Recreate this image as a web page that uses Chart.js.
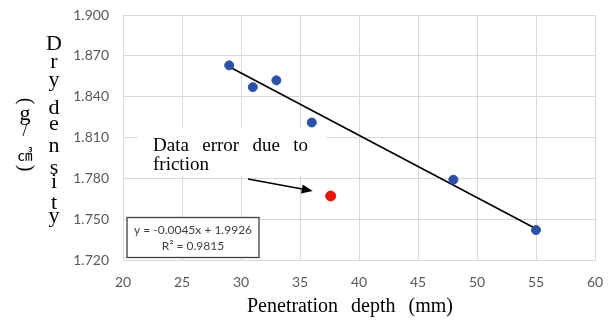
<!DOCTYPE html>
<html>
<head>
<meta charset="utf-8">
<script src="https://cdn.jsdelivr.net/npm/chart.js@4.4.1/dist/chart.umd.min.js"></script>
<style>
  html, body { margin: 0; padding: 0; background: #fff; }
  canvas { display: block; }
</style>
</head>
<body>
<canvas id="chart" width="614" height="324"></canvas>
<script>
// measured points (penetration depth mm, dry density g/cm3)
const depth = [29, 31, 33, 36, 48, 55];
const density = [1.863, 1.847, 1.852, 1.821, 1.779, 1.742];
// the outlier marked in red
const errDepth = [37.6];
const errDensity = [1.767];
// trend line ends
const trendX = [29, 55];
const trendY = [1.862, 1.743];

const xTicks = [20, 25, 30, 35, 40, 45, 50, 55, 60];
const yTicks = [1.72, 1.75, 1.78, 1.81, 1.84, 1.87, 1.9];

const eqLines = ["y = -0.0045x + 1.9926", "R² = 0.9815"];
const noteLines = ["Data error due to", "friction"];
const yTitle = ["D", "r", "y", "d", "e", "n", "s", "i", "t", "y"];
const xTitle = "Penetration depth (mm)";

function pairs(xs, ys) {
  return ys.map((v, i) => ({ x: xs[i], y: v }));
}

// draw words spread over a given width
function spread(ctx, text, x, y, width) {
  let words = text.split(" ");
  let w = words.map(s => ctx.measureText(s).width);
  let total = w.reduce((a, b) => a + b, 0);
  let gap = words.length > 1 ? (width - total) / (words.length - 1) : 0;
  let cx = x;
  words.forEach((s, i) => {
    ctx.fillText(s, cx, y);
    cx += w[i] + gap;
  });
}

const extras = {
  id: "extras",
  beforeDatasetsDraw(chart) {
    const ctx = chart.ctx;
    ctx.save();
    // annotation text sits on a white box over the grid
    ctx.fillStyle = "#fff";
    ctx.fillRect(138, 128, 188, 48);
    ctx.fillStyle = "#000";
    ctx.font = "19px 'Liberation Serif'";
    ctx.textBaseline = "alphabetic";
    ctx.textAlign = "left";
    spread(ctx, noteLines[0], 153, 151, 155);
    ctx.fillText(noteLines[1], 153, 170);
    ctx.restore();
  },
  afterDraw(chart) {
    const ctx = chart.ctx;
    const xs = chart.scales.x, ys = chart.scales.y;
    ctx.save();

    // arrow pointing to the outlier
    let x0 = 248, y0 = 179;
    let x1 = xs.getPixelForValue(errDepth[0]) - 18;
    let y1 = ys.getPixelForValue(errDensity[0]) - 5;
    let ang = Math.atan2(y1 - y0, x1 - x0);
    ctx.strokeStyle = "#000";
    ctx.fillStyle = "#000";
    ctx.lineWidth = 1.5;
    ctx.beginPath();
    ctx.moveTo(x0, y0);
    ctx.lineTo(x1 - 8 * Math.cos(ang), y1 - 8 * Math.sin(ang));
    ctx.stroke();
    ctx.beginPath();
    ctx.moveTo(x1, y1);
    ctx.lineTo(x1 - 11 * Math.cos(ang) + 4.5 * Math.sin(ang), y1 - 11 * Math.sin(ang) - 4.5 * Math.cos(ang));
    ctx.lineTo(x1 - 11 * Math.cos(ang) - 4.5 * Math.sin(ang), y1 - 11 * Math.sin(ang) + 4.5 * Math.cos(ang));
    ctx.closePath();
    ctx.fill();

    // trend equation box
    ctx.fillStyle = "#fff";
    ctx.fillRect(127, 217.5, 132, 40);
    ctx.strokeStyle = "#404040";
    ctx.lineWidth = 1.3;
    ctx.strokeRect(127, 217.5, 132, 40);
    ctx.fillStyle = "#404040";
    ctx.font = "12px Lato";
    ctx.textAlign = "center";
    ctx.textBaseline = "middle";
    ctx.fillText(eqLines[0], 193, 230);
    ctx.fillText(eqLines[1], 193, 246);

    // y title, stacked letters
    ctx.fillStyle = "#000";
    ctx.font = "22px 'Liberation Serif'";
    ctx.textBaseline = "alphabetic";
    const base = [50, 68, 86, 114, 130, 152, 174, 188, 209, 222];
    yTitle.forEach((c, i) => ctx.fillText(c, 54, base[i]));

    // unit column (g/cm3) with turned brackets
    ctx.save();
    ctx.translate(25, 101);
    ctx.rotate(Math.PI / 2);
    ctx.textBaseline = "middle";
    ctx.font = "20px 'Liberation Serif'";
    ctx.fillText("(", 0, 0);
    ctx.restore();
    ctx.font = "22px 'Liberation Serif'";
    ctx.fillText("g", 25, 120);
    ctx.font = "18px 'Liberation Serif'";
    ctx.fillText("/", 25, 136);
    ctx.font = "15px 'Noto Sans CJK JP'";
    ctx.fillText("㎤", 25, 160);
    ctx.save();
    ctx.translate(25, 168);
    ctx.rotate(Math.PI / 2);
    ctx.textBaseline = "middle";
    ctx.font = "20px 'Liberation Serif'";
    ctx.fillText(")", 0, 0);
    ctx.restore();

    // x title
    ctx.textAlign = "left";
    ctx.font = "20px 'Liberation Serif'";
    spread(ctx, xTitle, 247, 312, 206);

    ctx.restore();
  }
};

const ctx = document.getElementById("chart").getContext("2d");
new Chart(ctx, {
  type: "scatter",
  data: {
    datasets: [
      {
        data: pairs(depth, density),
        backgroundColor: "#2b52a6",
        borderColor: "#2b52a6",
        pointRadius: 4.5,
        order: 1,
      },
      {
        data: pairs(errDepth, errDensity),
        backgroundColor: "#e5170d",
        borderColor: "#e5170d",
        pointRadius: 5,
        order: 1,
      },
      {
        type: "line",
        data: pairs(trendX, trendY),
        borderColor: "#000",
        borderWidth: 1.6,
        pointRadius: 0,
        fill: false,
        order: 2,
      },
    ],
  },
  options: {
    responsive: false,
    devicePixelRatio: 1,
    animation: false,
    layout: { padding: { left: 0, right: 19, top: 15, bottom: 0 } },
    plugins: { legend: { display: false }, tooltip: { enabled: false } },
    scales: {
      x: {
        type: "linear",
        min: 20,
        max: 60,
        afterFit: (s) => { s.height = 64; s.paddingLeft = 0; s.paddingRight = 0; },
        afterBuildTicks: (s) => { s.ticks = xTicks.map(v => ({ value: v })); },
        grid: { color: "#d9d9d9", drawTicks: false },
        border: { color: "#d9d9d9" },
        ticks: { padding: 14, color: "#595959", font: { family: "Lato", size: 14 } },
      },
      y: {
        type: "linear",
        min: 1.72,
        max: 1.9,
        afterFit: (s) => { s.width = 123; s.paddingTop = 0; s.paddingBottom = 0; },
        afterBuildTicks: (s) => { s.ticks = yTicks.map(v => ({ value: v })); },
        grid: { color: "#d9d9d9", drawTicks: false },
        border: { color: "#d9d9d9" },
        ticks: {
          padding: 14,
          color: "#595959",
          font: { family: "Lato", size: 14 },
          callback: (v) => v.toFixed(3),
        },
      },
    },
  },
  plugins: [extras],
});
</script>
</body>
</html>
